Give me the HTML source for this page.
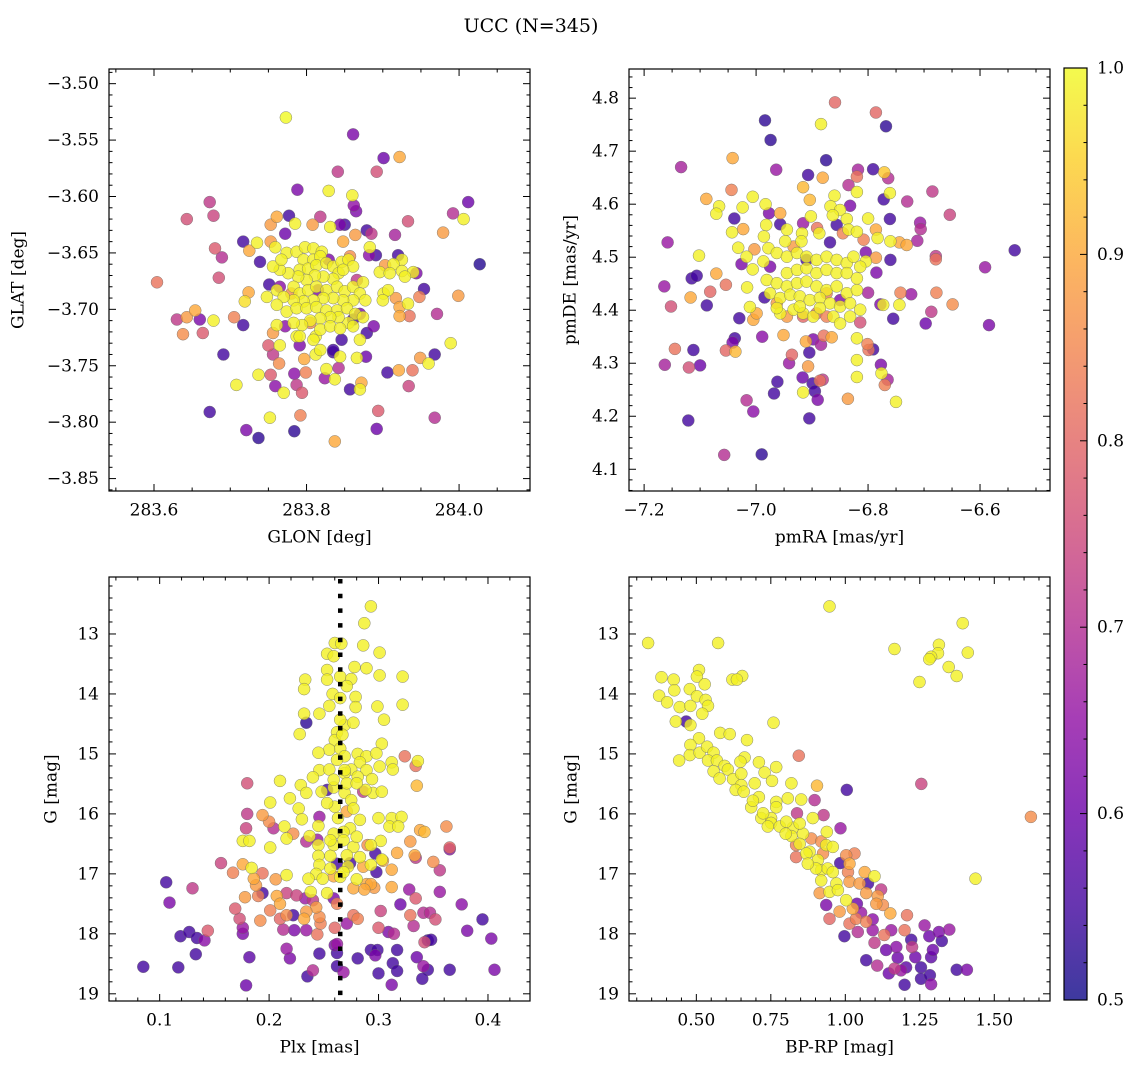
<!DOCTYPE html>
<html><head><meta charset="utf-8"><style>
html,body{margin:0;padding:0;background:#fff;}
svg text{font-family:"DejaVu Serif","Liberation Serif",serif;fill:#000;}
</style></head><body>
<svg id="fig" width="1136" height="1067" viewBox="0 0 1136 1067" xmlns="http://www.w3.org/2000/svg">
<text x="531" y="27" font-size="19" text-anchor="middle" dominant-baseline="middle">UCC (N=345)</text>
</svg>
<script>
// ---------- data (value, value, membership probability) ----------
const glonGlatPoints = [
[283.773,-3.530,1.0],[283.861,-3.545,0.62],[283.901,-3.566,0.6],[283.922,-3.565,0.9],[283.841,-3.578,0.72],[283.892,-3.578,0.76],[283.788,-3.594,0.62],[283.829,-3.595,0.99],[283.860,-3.599,0.99],[283.673,-3.605,0.72],[284.012,-3.605,0.6],[283.643,-3.620,0.76],[283.678,-3.617,0.74],[283.992,-3.615,0.7],[284.006,-3.620,0.99],[283.933,-3.622,0.76],[283.979,-3.632,0.88],[283.916,-3.634,0.68],[283.717,-3.640,0.55],[283.680,-3.646,0.78],[283.689,-3.654,0.7],[283.739,-3.658,0.55],[284.027,-3.660,0.52],[283.604,-3.676,0.82],[283.685,-3.672,0.76],[283.954,-3.682,0.55],[283.999,-3.688,0.88],[283.724,-3.685,0.9],[283.719,-3.693,0.97],[283.630,-3.709,0.72],[283.643,-3.707,0.88],[283.654,-3.701,0.9],[283.660,-3.709,0.62],[283.678,-3.710,0.99],[283.638,-3.722,0.86],[283.664,-3.721,0.78],[283.705,-3.707,0.84],[283.717,-3.714,0.55],[283.971,-3.704,0.7],[283.948,-3.689,0.84],[283.935,-3.706,0.82],[283.691,-3.740,0.55],[283.989,-3.730,0.99],[283.968,-3.740,0.55],[283.949,-3.743,0.88],[283.960,-3.748,0.99],[283.939,-3.754,0.82],[283.921,-3.754,0.9],[283.906,-3.756,0.55],[283.934,-3.768,0.74],[283.737,-3.758,0.99],[283.708,-3.767,0.99],[283.753,-3.758,0.78],[283.759,-3.768,0.64],[283.770,-3.774,0.99],[283.784,-3.757,0.64],[283.787,-3.767,0.72],[283.794,-3.774,0.78],[283.799,-3.756,0.84],[283.673,-3.791,0.55],[283.752,-3.796,0.99],[283.792,-3.794,0.84],[283.894,-3.790,0.78],[283.968,-3.796,0.7],[283.721,-3.807,0.62],[283.737,-3.814,0.53],[283.784,-3.808,0.53],[283.892,-3.806,0.6],[283.837,-3.817,0.9],[283.857,-3.771,0.55],[283.870,-3.771,0.99],[283.872,-3.765,0.9],[283.824,-3.761,0.66],[283.837,-3.762,0.99],[283.826,-3.753,0.99],[283.842,-3.752,0.7],[283.866,-3.743,0.99],[283.878,-3.742,0.6],[283.765,-3.732,0.99],[283.750,-3.732,0.78],[283.756,-3.740,0.72],[283.764,-3.748,0.86],[283.797,-3.744,0.9],[283.812,-3.740,0.99],[283.835,-3.738,0.55],[283.844,-3.742,0.99],[283.777,-3.617,0.55],[283.761,-3.618,0.9],[283.753,-3.625,0.88],[283.785,-3.624,0.99],[283.772,-3.633,0.6],[283.818,-3.618,0.72],[283.808,-3.625,0.88],[283.831,-3.627,0.99],[283.850,-3.625,0.55],[283.844,-3.625,0.62],[283.862,-3.608,0.65],[283.865,-3.613,0.62],[283.864,-3.634,0.88],[283.848,-3.640,0.9],[283.879,-3.630,0.55],[283.885,-3.633,0.72],[283.883,-3.645,0.99],[283.891,-3.652,0.55],[283.882,-3.652,0.64],[283.920,-3.652,0.55],[283.925,-3.656,0.99],[283.914,-3.660,0.99],[283.903,-3.661,0.88],[283.896,-3.667,0.99],[283.909,-3.668,0.99],[283.925,-3.666,0.99],[283.944,-3.668,0.62],[283.940,-3.667,0.99],[283.929,-3.671,0.99],[283.901,-3.686,0.99],[283.907,-3.683,0.99],[283.900,-3.692,0.99],[283.917,-3.690,0.88],[283.922,-3.698,0.9],[283.933,-3.695,0.99],[283.922,-3.706,0.9],[283.888,-3.715,0.62],[283.879,-3.721,0.55],[283.870,-3.727,0.99],[283.846,-3.727,0.55],[283.835,-3.736,0.55],[283.818,-3.736,0.99],[283.812,-3.724,0.99],[283.787,-3.724,0.99],[283.791,-3.732,0.62],[283.772,-3.715,0.64],[283.761,-3.714,0.99],[283.756,-3.721,0.88],[283.748,-3.689,0.99],[283.751,-3.678,0.55],[283.761,-3.683,0.99],[283.725,-3.648,0.9],[283.735,-3.641,0.99],[283.753,-3.640,0.88],[283.759,-3.645,0.99],
[283.805,-3.712,0.86],[283.815,-3.683,0.62],[283.866,-3.674,0.72],[283.870,-3.704,0.62],[283.780,-3.686,0.86],[283.765,-3.680,0.64],[283.829,-3.656,0.62],[283.857,-3.653,0.86],[283.861,-3.709,0.55],
[283.774,-3.650,0.99],[283.787,-3.649,0.99],[283.798,-3.645,0.99],[283.809,-3.646,0.99],[283.820,-3.649,0.99],[283.796,-3.656,0.99],[283.809,-3.656,0.99],[283.818,-3.653,0.99],[283.791,-3.665,0.99],[283.802,-3.664,0.99],[283.813,-3.661,0.99],[283.826,-3.659,0.99],[283.835,-3.662,0.99],[283.846,-3.658,0.99],[283.855,-3.656,0.99],[283.861,-3.662,0.99],[283.842,-3.668,0.99],[283.848,-3.665,0.99],[283.835,-3.673,0.99],[283.822,-3.671,0.99],[283.811,-3.670,0.99],[283.800,-3.674,0.99],[283.789,-3.671,0.99],[283.776,-3.668,0.99],[283.765,-3.665,0.99],[283.756,-3.662,0.99],[283.767,-3.656,0.99],[283.783,-3.680,0.99],[283.791,-3.686,0.99],[283.802,-3.683,0.99],[283.813,-3.680,0.99],[283.826,-3.683,0.99],[283.840,-3.680,0.99],[283.850,-3.684,0.99],[283.861,-3.680,0.99],[283.874,-3.676,0.99],[283.870,-3.686,0.99],[283.877,-3.692,0.99],[283.861,-3.692,0.99],[283.848,-3.692,0.99],[283.835,-3.690,0.99],[283.822,-3.690,0.99],[283.809,-3.692,0.99],[283.796,-3.693,0.99],[283.783,-3.692,0.99],[283.770,-3.689,0.99],[283.761,-3.696,0.99],[283.774,-3.702,0.99],[283.787,-3.699,0.99],[283.800,-3.699,0.99],[283.813,-3.698,0.99],[283.826,-3.701,0.99],[283.840,-3.701,0.99],[283.853,-3.699,0.99],[283.864,-3.704,0.99],[283.874,-3.707,0.99],[283.855,-3.712,0.99],[283.842,-3.707,0.99],[283.831,-3.707,0.99],[283.818,-3.708,0.99],[283.805,-3.710,0.99],[283.794,-3.714,0.99],[283.783,-3.712,0.99],[283.818,-3.718,0.99],[283.831,-3.715,0.99],[283.844,-3.717,0.99],[283.809,-3.727,0.99],[283.791,-3.724,0.99],[283.861,-3.715,0.99]
];
const pmPoints = [
[-6.859,4.792,0.8],[-6.786,4.773,0.8],[-6.984,4.758,0.53],[-6.768,4.747,0.53],[-6.884,4.751,0.99],[-6.974,4.721,0.53],[-7.042,4.687,0.9],[-7.134,4.670,0.68],[-6.875,4.683,0.53],[-6.964,4.665,0.66],[-6.907,4.655,0.55],[-6.881,4.650,0.9],[-6.818,4.665,0.68],[-6.820,4.652,0.82],[-6.791,4.666,0.55],[-6.771,4.660,0.94],[-6.764,4.649,0.7],[-6.835,4.636,0.7],[-6.820,4.623,0.99],[-6.761,4.621,0.99],[-6.772,4.609,0.55],[-6.730,4.605,0.7],[-6.685,4.624,0.72],[-6.654,4.580,0.74],[-7.044,4.627,0.84],[-7.089,4.610,0.9],[-7.066,4.596,0.99],[-7.071,4.582,0.99],[-7.006,4.614,0.99],[-7.024,4.594,0.99],[-6.983,4.600,0.99],[-6.916,4.632,0.92],[-6.904,4.608,0.92],[-6.860,4.616,0.99],[-6.867,4.596,0.99],[-6.832,4.597,0.62],[-6.850,4.589,0.99],[-6.863,4.579,0.99],[-6.800,4.573,0.99],[-6.761,4.572,0.55],[-6.707,4.565,0.66],[-6.706,4.553,0.7],[-6.712,4.531,0.68],[-7.158,4.528,0.66],[-7.039,4.573,0.55],[-6.957,4.583,0.9],[-6.977,4.583,0.62],[-6.957,4.562,0.55],[-7.043,4.547,0.99],[-7.023,4.553,0.9],[-7.032,4.518,0.99],[-7.102,4.503,0.99],[-7.003,4.515,0.88],[-6.986,4.539,0.99],[-6.978,4.517,0.99],[-6.982,4.561,0.99],[-7.017,4.501,0.99],[-6.987,4.492,0.99],[-7.026,4.487,0.62],[-7.006,4.477,0.99],[-6.975,4.482,0.62],[-6.902,4.577,0.99],[-6.916,4.564,0.66],[-6.891,4.555,0.82],[-6.887,4.545,0.99],[-6.918,4.545,0.99],[-6.945,4.552,0.99],[-6.948,4.530,0.99],[-6.933,4.520,0.88],[-6.919,4.530,0.99],[-6.868,4.528,0.55],[-6.856,4.561,0.55],[-6.838,4.572,0.99],[-6.845,4.545,0.84],[-6.835,4.552,0.99],[-6.820,4.548,0.99],[-6.808,4.533,0.84],[-6.786,4.552,0.9],[-6.783,4.536,0.99],[-6.760,4.530,0.99],[-6.744,4.528,0.9],[-6.731,4.523,0.9],[-6.804,4.509,0.62],[-6.786,4.499,0.88],[-6.804,4.492,0.99],[-6.760,4.495,0.55],[-6.785,4.471,0.62],[-6.679,4.502,0.72],[-6.679,4.496,0.82],[-6.591,4.481,0.66],[-6.538,4.513,0.55],[-7.164,4.445,0.66],[-7.152,4.407,0.76],[-7.115,4.460,0.55],[-7.106,4.465,0.55],[-7.071,4.469,0.9],[-7.082,4.435,0.8],[-7.054,4.448,0.82],[-7.117,4.424,0.9],[-7.088,4.409,0.55],[-7.016,4.443,0.99],[-6.985,4.424,0.55],[-7.030,4.385,0.55],[-7.011,4.406,0.99],[-7.005,4.382,0.9],[-6.999,4.394,0.9],[-7.038,4.347,0.55],[-6.989,4.350,0.64],[-6.951,4.353,0.9],[-7.145,4.327,0.82],[-7.112,4.325,0.55],[-7.163,4.297,0.68],[-7.120,4.292,0.76],[-7.100,4.296,0.6],[-7.054,4.324,0.8],[-7.042,4.339,0.62],[-7.037,4.322,0.92],[-7.121,4.192,0.55],[-7.057,4.127,0.7],[-6.990,4.128,0.53],[-7.017,4.230,0.7],[-7.005,4.209,0.64],[-6.962,4.265,0.55],[-6.968,4.243,0.55],[-6.936,4.316,0.8],[-6.941,4.300,0.66],[-6.917,4.273,0.6],[-6.916,4.245,0.99],[-6.907,4.294,0.88],[-6.905,4.320,0.55],[-6.911,4.341,0.9],[-6.898,4.345,0.62],[-6.884,4.335,0.68],[-6.879,4.352,0.82],[-6.865,4.349,0.9],[-6.899,4.262,0.55],[-6.895,4.247,0.55],[-6.890,4.231,0.62],[-6.886,4.267,0.82],[-6.881,4.269,0.72],[-6.905,4.196,0.55],[-6.836,4.233,0.88],[-6.820,4.347,0.99],[-6.820,4.306,0.99],[-6.820,4.274,0.99],[-6.801,4.336,0.84],[-6.799,4.325,0.82],[-6.791,4.326,0.55],[-6.777,4.297,0.62],[-6.776,4.281,0.99],[-6.765,4.269,0.68],[-6.770,4.259,0.84],[-6.750,4.227,0.99],[-6.755,4.384,0.55],[-6.742,4.433,0.84],[-6.723,4.430,0.66],[-6.744,4.410,0.99],[-6.773,4.410,0.99],[-6.778,4.411,0.62],[-6.800,4.433,0.68],[-6.814,4.377,0.76],[-6.697,4.375,0.6],[-6.687,4.397,0.72],[-6.678,4.433,0.84],[-6.649,4.411,0.86],[-6.584,4.372,0.62],
[-6.910,4.495,0.55],[-6.874,4.432,0.84],[-6.892,4.394,0.82],[-6.963,4.413,0.88],[-6.945,4.388,0.88],[-6.874,4.388,0.84],[-6.916,4.388,0.8],[-6.850,4.419,0.62],
[-6.963,4.508,0.99],[-6.945,4.501,0.99],[-6.927,4.508,0.99],[-6.910,4.501,0.99],[-6.892,4.495,0.99],[-6.874,4.501,0.99],[-6.856,4.495,0.99],[-6.838,4.489,0.99],[-6.826,4.501,0.99],[-6.814,4.482,0.99],[-6.945,4.470,0.99],[-6.927,4.476,0.99],[-6.910,4.479,0.99],[-6.892,4.470,0.99],[-6.874,4.476,0.99],[-6.856,4.470,0.99],[-6.838,4.470,0.99],[-6.820,4.460,0.99],[-6.981,4.457,0.99],[-6.963,4.451,0.99],[-6.945,4.445,0.99],[-6.927,4.451,0.99],[-6.910,4.454,0.99],[-6.892,4.445,0.99],[-6.874,4.438,0.99],[-6.856,4.445,0.99],[-6.838,4.432,0.99],[-6.820,4.438,0.99],[-6.975,4.432,0.99],[-6.957,4.423,0.99],[-6.939,4.429,0.99],[-6.922,4.426,0.99],[-6.904,4.419,0.99],[-6.886,4.423,0.99],[-6.868,4.413,0.99],[-6.850,4.407,0.99],[-6.832,4.413,0.99],[-6.814,4.401,0.99],[-6.957,4.394,0.99],[-6.933,4.401,0.99],[-6.916,4.394,0.99],[-6.898,4.388,0.99],[-6.862,4.388,0.99],[-6.850,4.375,0.99],[-6.832,4.388,0.99],[-6.963,4.404,0.99],[-6.886,4.404,0.99],[-6.922,4.407,0.99]
];
const plxGPoints = [
[0.293,12.54,0.99],[0.287,12.82,0.99],[0.286,13.19,0.99],[0.301,13.31,0.99],[0.260,13.15,0.99],[0.266,13.16,0.99],[0.253,13.33,0.99],[0.289,13.57,0.99],[0.278,13.55,0.99],[0.301,13.69,0.99],[0.322,13.71,0.99],[0.253,13.60,0.99],[0.253,13.76,0.99],[0.233,13.76,0.99],[0.232,13.92,0.99],[0.265,13.71,0.99],[0.275,13.75,0.99],[0.258,14.00,0.99],[0.279,14.05,0.99],[0.265,14.07,0.99],[0.255,14.20,0.99],[0.279,14.22,0.99],[0.299,14.21,0.99],[0.322,14.18,0.99],[0.246,14.33,0.99],[0.234,14.48,0.53],[0.232,14.33,0.99],[0.305,14.43,0.99],[0.269,14.52,0.99],[0.277,14.48,0.99],[0.228,14.67,0.99],[0.262,14.64,0.99],[0.260,14.77,0.99],[0.303,14.83,0.99],[0.255,14.93,0.99],[0.245,14.98,0.99],[0.281,15.00,0.99],[0.289,15.04,0.99],[0.298,14.99,0.99],[0.283,15.14,0.99],[0.301,15.21,0.99],[0.312,15.14,0.99],[0.313,15.26,0.99],[0.336,15.12,0.99],[0.324,15.04,0.82],[0.334,15.20,0.82],[0.335,15.53,0.92],[0.246,15.27,0.99],[0.255,15.26,0.99],[0.275,15.26,0.99],[0.289,15.27,0.99],[0.294,15.42,0.99],[0.281,15.38,0.99],[0.240,15.39,0.99],[0.229,15.52,0.99],[0.234,15.65,0.99],[0.248,15.63,0.99],[0.253,15.60,0.55],[0.259,15.56,0.99],[0.269,15.65,0.99],[0.295,15.65,0.99],[0.303,15.63,0.99],[0.288,15.60,0.99],[0.275,15.77,0.99],[0.286,15.63,0.72],[0.219,15.74,0.99],[0.201,15.81,0.99],[0.210,15.45,0.99],[0.227,15.91,0.99],[0.230,16.09,0.99],[0.260,15.88,0.99],[0.277,15.91,0.99],[0.246,16.05,0.66],[0.263,16.07,0.99],[0.283,16.10,0.99],[0.300,16.07,0.99],[0.312,16.07,0.99],[0.321,16.05,0.99],[0.310,16.21,0.99],[0.318,16.21,0.99],[0.245,16.20,0.99],[0.259,16.33,0.99],[0.274,16.24,0.99],[0.214,16.21,0.99],[0.204,16.24,0.7],[0.216,16.41,0.99],[0.179,16.24,0.74],[0.180,16.00,0.72],[0.180,15.49,0.76],[0.176,16.45,0.99],[0.182,16.45,0.99],[0.201,16.56,0.99],[0.194,16.02,0.88],[0.200,16.13,0.86],[0.222,16.33,0.86],[0.237,16.37,0.99],[0.234,16.46,0.7],[0.244,16.43,0.66],[0.271,15.96,0.9],[0.245,16.52,0.99],[0.259,16.52,0.99],[0.277,16.55,0.99],[0.290,16.52,0.86],[0.302,16.45,0.99],[0.293,16.52,0.99],[0.329,16.46,0.88],[0.338,16.27,0.9],[0.342,16.30,0.92],[0.362,16.21,0.86],[0.365,16.56,0.8],[0.365,16.59,0.64],[0.333,16.69,0.9],[0.334,16.73,0.72],[0.317,16.65,0.9],[0.303,16.76,0.99],[0.304,16.78,0.9],[0.297,16.66,0.55],[0.245,16.70,0.99],[0.256,16.70,0.99],[0.271,16.69,0.99],[0.262,16.83,0.55],[0.274,16.82,0.55],[0.246,16.85,0.99],[0.272,16.88,0.99],[0.286,16.88,0.9],[0.293,16.85,0.99],[0.298,16.97,0.55],[0.312,16.93,0.9],[0.350,16.80,0.86],[0.356,16.94,0.72],[0.243,17.00,0.99],[0.236,17.08,0.99],[0.249,17.08,0.99],[0.259,17.04,0.9],[0.265,17.05,0.99],[0.280,17.09,0.99],[0.289,17.17,0.9],[0.293,17.17,0.9],[0.277,17.24,0.9],[0.287,17.26,0.9],[0.296,17.23,0.88],[0.312,17.22,0.9],[0.216,17.02,0.99],[0.206,17.09,0.88],[0.194,16.99,0.82],[0.184,16.90,0.99],[0.176,16.84,0.9],[0.167,16.98,0.84],[0.156,16.82,0.74],[0.186,17.08,0.9],[0.188,17.19,0.88],[0.178,17.39,0.88],[0.190,17.37,0.84],[0.194,17.32,0.55],[0.207,17.37,0.9],[0.210,17.50,0.9],[0.216,17.32,0.74],[0.225,17.36,0.74],[0.233,17.41,0.66],[0.238,17.30,0.99],[0.240,17.44,0.72],[0.253,17.32,0.99],[0.259,17.41,0.62],[0.262,17.50,0.84],[0.243,17.56,0.88],[0.234,17.63,0.88],[0.232,17.75,0.9],[0.216,17.69,0.86],[0.210,17.75,0.8],[0.222,17.69,0.55],[0.246,17.72,0.86],[0.247,17.83,0.84],[0.277,17.69,0.82],[0.281,17.75,0.84],[0.271,17.83,0.66],[0.260,17.90,0.8],[0.201,17.61,0.84],[0.192,17.78,0.86],[0.169,17.58,0.78],[0.173,17.75,0.76],[0.176,17.90,0.66],[0.176,18.00,0.62],[0.213,17.93,0.7],[0.223,17.94,0.62],[0.234,17.94,0.66],[0.244,18.01,0.82],[0.260,18.19,0.62],[0.302,17.62,0.74],[0.300,17.90,0.78],[0.314,18.00,0.7],[0.320,17.51,0.6],[0.328,17.26,0.66],[0.334,17.41,0.78],[0.329,17.69,0.82],[0.332,17.87,0.7],[0.341,17.65,0.7],[0.347,17.65,0.7],[0.352,17.76,0.76],[0.356,17.30,0.66],[0.376,17.51,0.64],[0.395,17.76,0.55],[0.381,17.95,0.62],[0.403,18.08,0.62],[0.345,18.11,0.55],[0.342,18.14,0.76],
[0.106,17.14,0.55],[0.109,17.48,0.62],[0.130,17.24,0.72],[0.119,18.04,0.55],[0.127,17.97,0.55],[0.134,18.07,0.55],[0.141,18.11,0.64],[0.144,17.95,0.78],[0.133,18.34,0.55],[0.085,18.55,0.55],[0.117,18.56,0.55],[0.182,18.39,0.58],[0.179,18.86,0.6],[0.216,18.25,0.66],[0.219,18.41,0.62],[0.240,18.61,0.7],[0.235,18.71,0.55],[0.246,18.33,0.55],[0.262,18.17,0.66],[0.262,18.32,0.55],[0.262,18.54,0.55],[0.268,18.64,0.66],[0.281,18.41,0.55],[0.293,18.27,0.55],[0.297,18.36,0.62],[0.299,18.27,0.55],[0.300,18.66,0.55],[0.312,18.85,0.62],[0.317,18.27,0.55],[0.313,18.49,0.55],[0.317,18.62,0.55],[0.335,18.39,0.6],[0.341,18.54,0.66],[0.345,18.60,0.55],[0.340,18.75,0.55],[0.348,18.10,0.55],[0.365,18.60,0.55],[0.406,18.60,0.62],[0.309,17.97,0.62],
[0.265,14.91,0.99],[0.269,15.04,0.99],[0.262,15.10,0.99],[0.269,15.32,0.99],[0.259,15.43,0.99],[0.271,15.49,0.99],[0.280,15.49,0.99],[0.253,15.82,0.99],[0.268,16.30,0.99],[0.256,16.44,0.99],[0.268,16.44,0.99],[0.280,16.38,0.99],[0.283,16.72,0.99],[0.256,16.91,0.99],[0.268,16.97,0.99],[0.269,15.27,0.99],[0.265,14.43,0.99],[0.267,14.68,0.99],[0.271,13.87,0.99],[0.259,13.37,0.99]
];
const plxMarker = [0.265];
const cmdPoints = [
[0.947,12.54,0.99],[1.394,12.82,0.99],[0.338,13.15,0.99],[0.573,13.15,0.99],[1.165,13.25,0.99],[1.314,13.18,0.99],[1.311,13.32,0.99],[1.288,13.38,0.99],[1.282,13.42,0.99],[1.411,13.31,0.99],[1.347,13.55,0.99],[1.374,13.70,0.99],[1.249,13.80,0.99],[0.383,13.72,0.99],[0.424,13.76,0.99],[0.426,13.94,0.99],[0.375,14.03,0.99],[0.402,14.14,0.99],[0.444,14.22,0.99],[0.480,14.20,0.99],[0.509,13.60,0.99],[0.502,13.71,0.99],[0.528,13.84,0.99],[0.478,13.92,0.99],[0.502,14.04,0.99],[0.531,14.10,0.99],[0.539,14.20,0.99],[0.520,14.33,0.99],[0.431,14.46,0.99],[0.466,14.46,0.55],[0.480,14.52,0.99],[0.621,13.76,0.99],[0.654,13.70,0.99],[0.636,13.76,0.99],[0.759,14.48,0.99],[0.580,14.65,0.99],[0.612,14.67,0.99],[0.670,14.77,0.99],[0.509,14.74,0.99],[0.480,14.85,0.99],[0.442,15.11,0.99],[0.478,15.02,0.99],[0.511,14.98,0.99],[0.536,14.88,0.99],[0.558,14.98,0.99],[0.539,15.11,0.99],[0.569,15.11,0.99],[0.558,15.29,0.99],[0.578,15.41,0.99],[0.595,15.20,0.99],[0.606,15.26,0.99],[0.662,15.06,0.99],[0.648,15.13,0.99],[0.710,15.14,0.99],[0.729,15.31,0.99],[0.768,15.22,0.99],[0.754,15.45,0.99],[0.623,15.42,0.99],[0.651,15.33,0.99],[0.651,15.52,0.99],[0.632,15.60,0.99],[0.659,15.63,0.99],[0.696,15.49,0.99],[0.710,15.72,0.99],[0.684,15.89,0.99],[0.690,15.78,0.99],[0.718,16.07,0.99],[0.751,16.07,0.99],[0.768,15.80,0.99],[0.768,15.89,0.99],[0.807,15.74,0.99],[0.852,15.76,0.99],[0.819,15.49,0.99],[0.844,15.03,0.82],[0.905,15.53,0.92],[0.897,15.77,0.7],[0.838,15.99,0.72],[0.891,16.07,0.99],[0.927,16.02,0.72],[1.005,15.60,0.55],[1.255,15.50,0.74],[1.623,16.05,0.86],[1.437,17.08,0.99],[0.751,16.15,0.99],[0.780,16.21,0.99],[0.824,16.23,0.99],[0.819,16.37,0.99],[0.858,16.33,0.99],[0.847,16.50,0.99],[0.880,16.63,0.99],[0.908,16.77,0.99],[0.936,16.52,0.99],[0.938,16.30,0.99],[0.958,16.55,0.99],[0.984,16.24,0.66],[0.919,16.94,0.99],[0.941,16.91,0.99],[0.919,17.11,0.99],[0.947,17.30,0.99],[0.970,17.16,0.99],[1.003,17.44,0.99],[1.098,17.04,0.99],[1.065,16.97,0.9],[0.835,16.52,0.84],[0.835,16.72,0.82],[0.886,16.41,0.86],[0.919,16.46,0.86],[0.925,16.66,0.86],[0.914,17.32,0.88],[0.936,17.52,0.62],[0.947,17.75,0.8],[0.981,17.63,0.88],[1.003,16.69,0.86],[1.031,16.66,0.84],[0.983,16.82,0.55],[1.014,16.83,0.9],[1.009,16.97,0.84],[1.014,17.13,0.88],[1.048,17.16,0.88],[1.076,17.16,0.55],[1.070,17.32,0.88],[1.109,17.37,0.88],[1.120,17.26,0.72],[1.104,17.50,0.88],[1.126,17.52,0.86],[1.151,17.66,0.9],[1.039,17.50,0.6],[1.053,17.65,0.66],[1.025,17.58,0.9],[1.036,17.75,0.84],[1.014,17.83,0.82],[1.070,17.80,0.84],[1.092,17.76,0.64],[1.207,17.69,0.82],[1.199,17.94,0.82],[0.997,18.04,0.55],[1.042,17.97,0.7],[1.092,17.94,0.66],[1.131,18.02,0.82],[1.154,17.94,0.66],[1.098,18.15,0.72],[1.137,18.27,0.6],[1.171,18.22,0.64],[1.176,18.40,0.6],[1.221,18.10,0.55],[1.224,18.22,0.72],[1.266,17.86,0.66],[1.282,18.04,0.6],[1.314,17.97,0.62],[1.324,18.12,0.55],[1.349,17.93,0.66],[1.294,18.27,0.6],[1.288,18.39,0.58],[1.235,18.39,0.6],[1.254,18.56,0.55],[1.204,18.56,0.58],[1.165,18.58,0.72],[1.187,18.61,0.66],[1.146,18.66,0.6],[1.070,18.44,0.55],[1.107,18.53,0.7],[1.199,18.85,0.55],[1.254,18.75,0.55],[1.288,18.84,0.64],[1.284,18.69,0.55],[1.374,18.60,0.55],[1.408,18.60,0.62],
[0.724,15.99,0.99],[0.740,16.21,0.99],[0.802,16.13,0.99],[0.847,16.16,0.99],[0.869,16.66,0.99],[0.902,16.91,0.99],[0.958,16.97,0.99],[0.975,17.27,0.99],[0.874,16.83,0.99],[0.800,16.33,0.99]
];
const cbarTicks = [0.5,0.6,0.7,0.8,0.9,1.0];

// ---------- helpers ----------
const NS = "http://www.w3.org/2000/svg";
const svg = document.getElementById('fig');
function mk(tag, attrs, parent){const e=document.createElementNS(NS,tag);for(const k in attrs)e.setAttribute(k,attrs[k]);(parent||svg).appendChild(e);return e;}
const plasma=[[13,8,135],[65,4,157],[106,0,168],[143,13,164],[177,42,144],[204,71,120],[225,100,98],[242,132,75],[252,166,54],[252,206,37],[240,249,33]];
function cmap(v){let t=(v-0.5)/0.5;t=Math.max(0,Math.min(1,t));const f=t*10,i=Math.min(9,Math.floor(f)),r=f-i;const a=plasma[i],b=plasma[i+1];return 'rgb('+[0,1,2].map(k=>Math.round(a[k]+(b[k]-a[k])*r)).join(',')+')';}
function fmt(v,d){const s=Math.abs(v).toFixed(d);return (v<-1e-9?'\u2212':'')+s;}

function panel(cfg){
  const g=mk('g',{});
  
  
  const {x0,x1,y0,y1}=cfg;
  const sx=v=>x0+(v-cfg.xd[0])/(cfg.xd[1]-cfg.xd[0])*(x1-x0);
  const sy=cfg.yinv? v=>y0+(v-cfg.yd[0])/(cfg.yd[1]-cfg.yd[0])*(y1-y0) : v=>y1-(v-cfg.yd[0])/(cfg.yd[1]-cfg.yd[0])*(y1-y0);
  const pg=mk('g',{},g);
  
  
  const pts=cfg.pts.slice().sort((a,b)=>a[2]-b[2]);
  pts.forEach(p=>{
    const c=mk('circle',{cx:sx(p[0]).toFixed(1),cy:sy(p[1]).toFixed(1),r:6,fill:cmap(p[2]),'fill-opacity':0.8,stroke:'#6b6b6b','stroke-width':0.4},pg);
    
    
  });
  if(cfg.vline!==undefined){
    const l=mk('line',{x1:sx(cfg.vline),x2:sx(cfg.vline),y1:y0+2,y2:y1,stroke:'#000','stroke-width':4.5,'stroke-dasharray':'4.5 10.2'},g);
    
    
  }
  const fr=mk('rect',{x:x0,y:y0,width:x1-x0,height:y1-y0,fill:'none',stroke:'#000','stroke-width':1.2},g);
  
  
  const tg=mk('g',{stroke:'#000','stroke-width':1},g);
  const eps=1e-9;
  for(let v=Math.ceil(cfg.xd[0]/cfg.xmin-eps)*cfg.xmin; v<=cfg.xd[1]+eps; v+=cfg.xmin){
    const isMaj=Math.abs(v/cfg.xmaj-Math.round(v/cfg.xmaj))<1e-4; const L=isMaj?7:3.5; const X=sx(v);
    mk('line',{x1:X,x2:X,y1:y1,y2:y1-L},tg); mk('line',{x1:X,x2:X,y1:y0,y2:y0+L},tg);
    if(isMaj){const t=mk('text',{x:X,y:y1+20,'font-size':17,'text-anchor':'middle','dominant-baseline':'middle'},g);t.textContent=fmt(v,cfg.xdec);
      }
  }
  for(let v=Math.ceil(cfg.yd[0]/cfg.ymin-eps)*cfg.ymin; v<=cfg.yd[1]+eps; v+=cfg.ymin){
    const isMaj=Math.abs(v/cfg.ymaj-Math.round(v/cfg.ymaj))<1e-4; const L=isMaj?7:3.5; const Y=sy(v);
    mk('line',{x1:x0,x2:x0+L,y1:Y,y2:Y},tg); mk('line',{x1:x1,x2:x1-L,y1:Y,y2:Y},tg);
    if(isMaj){const t=mk('text',{x:x0-10,y:Y+1,'font-size':17,'text-anchor':'end','dominant-baseline':'middle'},g);t.textContent=fmt(v,cfg.ydec);
      }
  }
  const xl=mk('text',{x:(x0+x1)/2,y:y1+47,'font-size':17,'text-anchor':'middle','dominant-baseline':'middle'},g);
  xl.textContent=cfg.xlabel;
  
  
  const ly=(y0+y1)/2;
  const yl=mk('text',{x:cfg.ylx,y:ly,'font-size':17,'text-anchor':'middle','dominant-baseline':'middle',transform:'rotate(-90 '+cfg.ylx+' '+ly+')'},g);
  yl.textContent=cfg.ylabel;
  
  
}

panel({name:'glon-glat-panel',x0:109,x1:530,y0:69,y1:491,xd:[283.541,284.093],yd:[-3.861,-3.487],xmaj:0.2,xmin:0.05,ymaj:0.05,ymin:0.01,xdec:1,ydec:2,pts:glonGlatPoints,xlabel:'GLON [deg]',ylabel:'GLAT [deg]',ylx:19});
panel({name:'proper-motion-panel',x0:629,x1:1050,y0:69,y1:491,xd:[-7.227,-6.475],yd:[4.059,4.855],xmaj:0.2,xmin:0.05,ymaj:0.1,ymin:0.02,xdec:1,ydec:1,pts:pmPoints,xlabel:'pmRA [mas/yr]',ylabel:'pmDE [mas/yr]',ylx:571});
panel({name:'parallax-panel',x0:109,x1:530,y0:577,y1:1001,xd:[0.0537,0.4384],yd:[12.05,19.12],yinv:true,xmaj:0.1,xmin:0.02,ymaj:1,ymin:0.2,xdec:1,ydec:0,pts:plxGPoints,vline:plxMarker[0],xlabel:'Plx [mas]',ylabel:'G [mag]',ylx:52});
panel({name:'cmd-panel',x0:629,x1:1050,y0:577,y1:1001,xd:[0.274,1.687],yd:[12.05,19.12],yinv:true,xmaj:0.25,xmin:0.05,ymaj:1,ymin:0.2,xdec:2,ydec:0,pts:cmdPoints,xlabel:'BP-RP [mag]',ylabel:'G [mag]',ylx:572});

(function(){
  const cx0=1064,cx1=1087,cy0=68,cy1=1000;
  const g=mk('g',{});
  
  
  const defs=mk('defs',{},g);
  const lg=mk('linearGradient',{id:'cbg',x1:0,y1:1,x2:0,y2:0},defs);
  for(let i=0;i<=20;i++){const v=0.5+i*0.025;mk('stop',{offset:(i/20),'stop-color':cmap(v),'stop-opacity':0.8},lg);}
  const r=mk('rect',{x:cx0,y:cy0,width:cx1-cx0,height:cy1-cy0,fill:'url(#cbg)',stroke:'#000','stroke-width':1.2},g);
  
  
  const sy=v=>cy1-(v-0.5)/0.5*(cy1-cy0);
  for(let v=0.5;v<=1.0001;v+=0.02){
    const maj=Math.abs(v*10-Math.round(v*10))<1e-4;
    const Y=sy(v);
    mk('line',{x1:cx1,x2:cx1-(maj?7:3.5),y1:Y,y2:Y,stroke:'#000','stroke-width':1},g);
  }
  cbarTicks.forEach(v=>{
    const t=mk('text',{x:1097,y:sy(v)+1,'font-size':17,'dominant-baseline':'middle'},g);
    t.textContent=v.toFixed(1);
    
    
  });
})();
</script>
</body></html>
